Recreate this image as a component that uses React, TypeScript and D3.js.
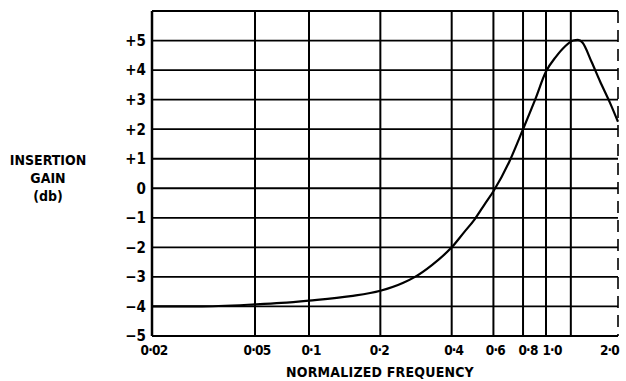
import * as d3 from 'd3';

// Insertion gain vs normalized frequency
const freqs = [0.02, 0.03, 0.05, 0.07, 0.1, 0.15, 0.2, 0.25, 0.28, 0.33, 0.4, 0.45, 0.5, 0.55, 0.6, 0.7, 0.8, 0.9, 1.0, 1.1, 1.2, 1.3, 1.36, 1.42, 1.55, 1.68, 1.85, 2.0];
const gains = [-4.0, -4.0, -3.93, -3.88, -3.8, -3.65, -3.47, -3.2, -3.0, -2.6, -2.0, -1.5, -1.05, -0.55, -0.1, 0.9, 2.0, 3.0, 3.95, 4.45, 4.8, 5.0, 5.02, 4.93, 4.28, 3.63, 2.9, 2.25];

const xTicks = [0.02, 0.05, 0.1, 0.2, 0.4, 0.6, 0.8, 1.0, 2.0];
const xTickLabels = ['0·02', '0·05', '0·1', '0·2', '0·4', '0·6', '0·8', '1·0', '2·0'];
const xGrid = [0.02, 0.05, 0.1, 0.2, 0.4, 0.6, 0.8, 1.0, 1.27];
const yTicks = [5, 4, 3, 2, 1, 0, -1, -2, -3, -4, -5];
const yTickLabels = ['+5', '+4', '+3', '+2', '+1', '0', '−1', '−2', '−3', '−4', '−5'];
const yLabelLines = ['INSERTION', 'GAIN', '(db)'];
const xLabel = 'NORMALIZED FREQUENCY';

const width = 626;
const height = 381;
const font = '"DejaVu Sans Condensed", "DejaVu Sans", sans-serif';

// small nudges so the crowded labels sit as on the paper
const labelShift: Record<number, number> = { 0.2: -3, 0.8: 3, 1.0: 4 };

export default function App() {
    // the paper scale is hand drawn, so the log axis is stretched piecewise
    const x = d3.scaleLog()
        .domain([0.02, 0.05, 0.1, 1.0, 2.0])
        .range([152, 255, 309, 546, 618]);

    const y = d3.scaleLinear()
        .domain([-5, 6])
        .range([336, 11]);

    const [x0, x1] = [x(0.02), x(2.0)];
    const [yBot, yTop] = [y(-5), y(6)];

    const line = d3.line<number>()
        .x((_, i) => x(freqs[i]))
        .y(d => y(d))
        .curve(d3.curveMonotoneX);

    return (
        <svg width={width} height={height} style={{ position: 'absolute', left: 0, top: 0, background: '#fff' }}>
            {/* horizontal grid */}
            {yTicks.map(t => (
                <line key={'h' + t} x1={x0} x2={x1} y1={y(t)} y2={y(t)} stroke="#000" strokeWidth={1.8} />
            ))}
            <line x1={x0} x2={x1} y1={yTop} y2={yTop} stroke="#000" strokeWidth={2} />

            {/* vertical grid */}
            {xGrid.map(t => (
                <line key={'v' + t} x1={x(t)} x2={x(t)} y1={yTop} y2={yBot} stroke="#000" strokeWidth={t === 0.02 ? 2.5 : 2} />
            ))}
            <line x1={x1} x2={x1} y1={yTop} y2={yBot} stroke="#000" strokeWidth={1.6} strokeDasharray="12 7" />

            {/* curve */}
            <path d={line(gains) || ''} fill="none" stroke="#000" strokeWidth={2.2} />

            {/* y tick labels */}
            {yTicks.map((t, i) => (
                <text key={'yl' + t} x={146} y={y(t)} dy="0.36em" textAnchor="end"
                    fontFamily={font} fontWeight="bold" fontSize={15}>{yTickLabels[i]}</text>
            ))}

            {/* x tick labels */}
            {xTicks.map((t, i) => (
                <text key={'xl' + t}
                    x={t === 2.0 ? x1 + 1 : x(t) + 2 + (labelShift[t] || 0)}
                    y={355} textAnchor={t === 2.0 ? 'end' : 'middle'}
                    fontFamily={font} fontWeight="bold" fontSize={13.5} letterSpacing={-0.8}>{xTickLabels[i]}</text>
            ))}

            {/* axis titles */}
            {yLabelLines.map((s, i) => (
                <text key={s} x={48} y={165 + i * 18} textAnchor="middle"
                    fontFamily={font} fontWeight="bold" fontSize={14}>{s}</text>
            ))}
            <text x={380} y={377} textAnchor="middle" fontFamily={font} fontWeight="bold" fontSize={14}
                letterSpacing={0.2}>{xLabel}</text>
        </svg>
    );
}
